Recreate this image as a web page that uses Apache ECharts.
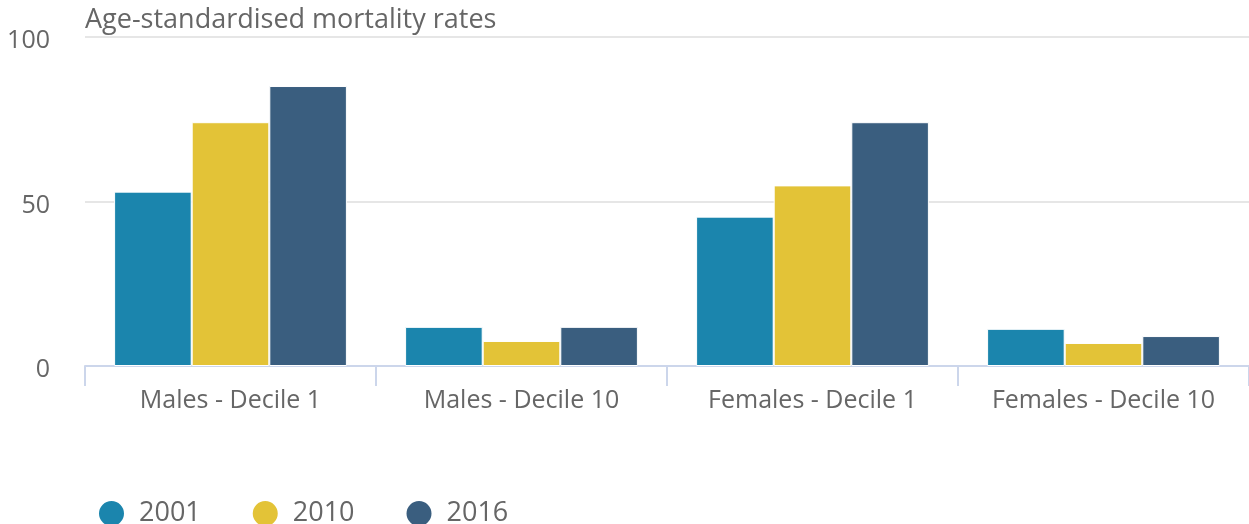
<!DOCTYPE html>
<html>
<head>
<meta charset="utf-8">
<script src="https://cdn.jsdelivr.net/npm/echarts@6/dist/echarts.min.js"></script>
<style>
html,body{margin:0;padding:0;background:#fff;}
#chart{width:1249px;height:524px;}
</style>
</head>
<body>
<div id="chart"></div>
<script>
var categories = ['Males - Decile 1', 'Males - Decile 10', 'Females - Decile 1', 'Females - Decile 10'];
var seriesNames = ['2001', '2010', '2016'];
var values2001 = [53.0, 11.9, 45.4, 11.3];
var values2010 = [74.1, 7.6, 54.9, 7.0];
var values2016 = [85.1, 11.9, 74.1, 9.1];
var yTicks = [0, 50, 100];
var colors = ['#1b85ad', '#e3c337', '#3a5e7f'];

var chart = echarts.init(document.getElementById('chart'));
var font = '"Open Sans", sans-serif';
var allValues = [values2001, values2010, values2016];
chart.setOption({
  animation: false,
  textStyle: { fontFamily: font },
  title: {
    text: 'Age-standardised mortality rates',
    left: 80, top: 2,
    textStyle: { fontFamily: font, fontSize: 27, fontWeight: 'normal', color: '#666666' }
  },
  legend: {
    data: seriesNames,
    left: 92, top: 494,
    icon: 'circle',
    itemWidth: 27, itemHeight: 27,
    itemGap: 50,
    textStyle: { fontFamily: font, fontSize: 27, color: '#666666', padding: [0, 0, 0, 9] }
  },
  grid: { left: 85, right: 0, top: 37, bottom: 158, containLabel: false },
  xAxis: {
    type: 'category',
    data: categories,
    axisLine: { lineStyle: { color: '#ccd6eb', width: 2 } },
    axisTick: { show: true, length: 20, lineStyle: { color: '#ccd6eb', width: 2 } },
    axisLabel: { fontFamily: font, fontSize: 25, color: '#666666', margin: 22 }
  },
  yAxis: {
    type: 'value',
    min: yTicks[0], max: yTicks[yTicks.length - 1], interval: yTicks[1] - yTicks[0],
    axisLine: { show: false },
    axisTick: { show: false },
    splitLine: { lineStyle: { color: '#e6e6e6', width: 2 } },
    axisLabel: { fontFamily: font, fontSize: 25, color: '#666666', margin: 35, align: 'right', verticalAlign: 'top', lineHeight: 8 }
  },
  series: seriesNames.map(function (name, i) {
    return {
      name: name,
      type: 'bar',
      data: allValues[i],
      barGap: '0%',
      barCategoryGap: '20%',
      itemStyle: { color: colors[i], borderColor: '#ffffff', borderWidth: 1 }
    };
  })
});
</script>
</body>
</html>
